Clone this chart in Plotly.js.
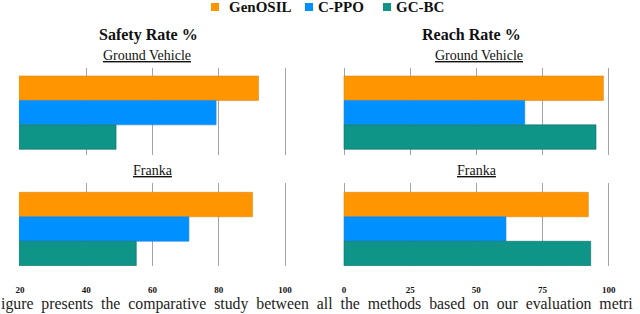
<!DOCTYPE html>
<html>
<head>
<meta charset="utf-8">
<script src="https://cdn.plot.ly/plotly-3.0.1.min.js"></script>
<style>html,body{margin:0;padding:0;background:#fff;}#chart{width:640px;height:314px;}</style>
</head>
<body>
<div id="chart"></div>
<script>
// ---- data ----
const methods = ['GenOSIL', 'C-PPO', 'GC-BC'];
const safetyGround = [92, 79.2, 49];
const safetyFranka = [90.2, 71, 55.1];
const reachGround = [98, 68.3, 95.2];
const reachFranka = [92.3, 61.2, 93.2];
const safetyTicks = [20, 40, 60, 80, 100];
const reachTicks = [0, 25, 50, 75, 100];
const metricTitles = ['Safety Rate %', 'Reach Rate %'];
const robotTitles = ['Ground Vehicle', 'Franka'];
const caption = 'igure presents the comparative study between all the methods based on our evaluation metri';

// ---- styles ----
const colors = ['#ff9500', '#0090ff', '#0f9488'];
const lineColors = ['#d98a1a', '#2a86d6', '#0b6f66'];
const serif = "'Liberation Serif', 'Times New Roman', serif";
const W = 640, H = 314;
const px = v => v / W;
const py = v => 1 - v / H;

function barTrace(vals, k) {
  return {
    type: 'bar', orientation: 'h',
    y: methods, x: vals,
    xaxis: 'x' + k, yaxis: 'y' + k,
    marker: {color: colors, line: {color: lineColors, width: 0.6}},
    hoverinfo: 'x+y'
  };
}

const data = [
  barTrace(safetyGround, ''),
  barTrace(reachGround, 2),
  barTrace(safetyFranka, 3),
  barTrace(reachFranka, 4)
];

const leftDom = [px(19), px(287)];
const rightDom = [px(343), px(611)];
const topDom = [py(155), py(68)];
const botDom = [py(266), py(183)];
const leftRange = [19.70, 100.60];
const rightRange = [-0.38, 100.87];
const gridColor = '#a3a3a3';
const tickFont = {family: serif, size: 9, color: '#111', weight: 'bold'};

function xa(dom, range, ticks, anchor, labels) {
  return {
    domain: dom, range: range, anchor: anchor,
    tickmode: 'array', tickvals: ticks,
    showticklabels: labels, ticks: 'outside', ticklen: 15, tickcolor: 'rgba(0,0,0,0)',
    tickfont: tickFont,
    showgrid: true, gridcolor: gridColor, gridwidth: 1,
    zeroline: false, showline: false, fixedrange: true
  };
}
function ya(dom, range, anchor) {
  return {
    domain: dom, range: range, anchor: anchor,
    type: 'category', categoryarray: methods, categoryorder: 'array',
    showticklabels: false, showgrid: false, zeroline: false, showline: false, fixedrange: true
  };
}

const annotations = [];
const shapes = [];
// titles
const titleX = [148, 471];
metricTitles.forEach((t, i) => annotations.push({
  xref: 'paper', yref: 'paper', x: px(titleX[i]), y: py(35),
  xanchor: 'center', yanchor: 'middle', showarrow: false,
  text: '<b>' + t + '</b>', font: {family: serif, size: 16, color: '#111'}
}));
const subX = [[147, 479], [153, 477]];
const subY = [56, 170];
robotTitles.forEach((t, r) => subX[r].forEach(x => annotations.push({
  xref: 'paper', yref: 'paper', x: px(x), y: py(subY[r]),
  xanchor: 'center', yanchor: 'middle', showarrow: false,
  text: '<u>' + t + '</u>', font: {family: serif, size: 14, color: '#111'}
})));
// legend
const legSq = [211, 305, 383];
const legTx = [227, 316, 394];
methods.forEach((m, i) => {
  shapes.push({type: 'rect', xref: 'paper', yref: 'paper',
    x0: px(legSq[i]), x1: px(legSq[i] + 8), y0: py(11), y1: py(3),
    fillcolor: colors[i], line: {width: 0}});
  annotations.push({
    xref: 'paper', yref: 'paper', x: px(legTx[i]), y: py(7),
    xanchor: 'left', yanchor: 'middle', showarrow: false,
    text: '<b>' + m + '</b>', font: {family: serif, size: 15, color: '#111'}
  });
});
// caption (justified-looking spacing)
annotations.push({
  xref: 'paper', yref: 'paper', x: 0, y: 0,
  xanchor: 'left', yanchor: 'bottom', showarrow: false, borderpad: 0,
  text: caption.split(' ').join('\u00a0\u00a0'),
  font: {family: serif, size: 15.8, color: '#222'}
});

const layout = {
  width: W, height: H,
  margin: {l: 0, r: 0, t: 0, b: 0, pad: 0},
  paper_bgcolor: '#fff', plot_bgcolor: 'rgba(0,0,0,0)',
  showlegend: false, barmode: 'overlay', bargap: 0,
  xaxis: xa(leftDom, leftRange, safetyTicks, 'y', false),
  yaxis: ya(topDom, [2.733, -0.827], 'x'),
  xaxis2: xa(rightDom, rightRange, reachTicks, 'y2', false),
  yaxis2: ya(topDom, [2.733, -0.827], 'x2'),
  xaxis3: xa(leftDom, leftRange, safetyTicks, 'y3', true),
  yaxis3: ya(botDom, [2.51, -0.88], 'x3'),
  xaxis4: xa(rightDom, rightRange, reachTicks, 'y4', true),
  yaxis4: ya(botDom, [2.51, -0.88], 'x4'),
  annotations: annotations, shapes: shapes
};

Plotly.newPlot('chart', data, layout, {displayModeBar: false, staticPlot: true});
</script>
</body>
</html>
